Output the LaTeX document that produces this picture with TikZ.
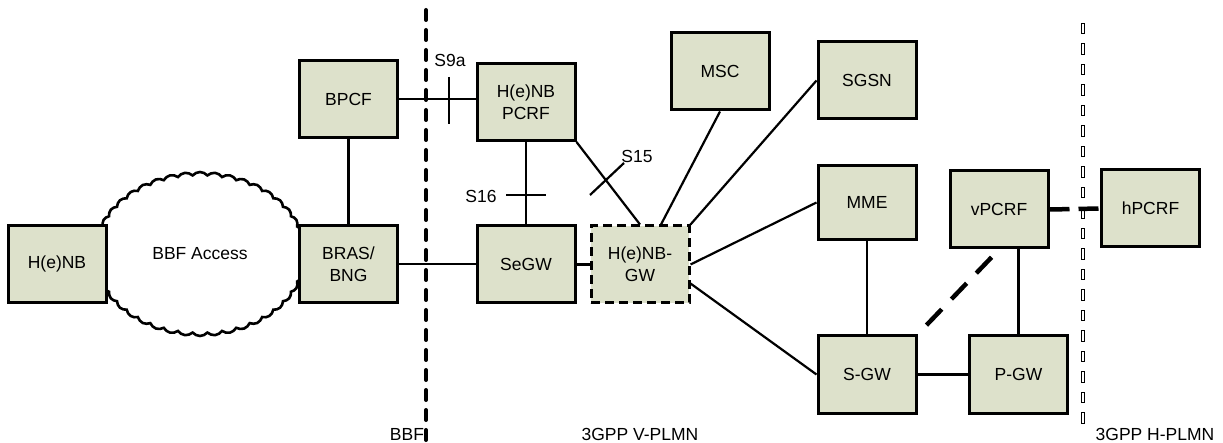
\documentclass[tikz,border=0pt]{standalone}
\usepackage{fontspec}
\setmainfont{Liberation Sans}
\usetikzlibrary{shapes.symbols}
\definecolor{boxfill}{RGB}{221,225,203}

\begin{document}
\begin{tikzpicture}[x=1pt,y=-1pt,
  font=\fontsize{17.5}{22}\selectfont,
  nf/.style={draw,line width=3pt,fill=boxfill,minimum width=98pt,minimum height=77pt,align=center,inner sep=2pt},
  ln/.style={line width=2.2pt},
  bigdash/.style={line width=4.5pt,dash pattern=on 22pt off 14pt}]
  \useasboundingbox (0,0) rectangle (1223,443);
  % access cloud (behind the boxes)
  \node[cloud,draw,line width=2.6pt,fill=white,cloud puffs=44,cloud puff arc=100,aspect=1.3,
        minimum width=212pt,minimum height=164pt,inner sep=0pt] (bbfcloud) at (200,254) {BBF Access};
  % domain borders
  \draw[line width=4pt,line cap=round,dash pattern=on 10pt off 10pt] (426,10) -- (426,443);
  \foreach \i in {0,...,19}
    \draw[line width=0.9pt] (1081.5,{23+20.5*\i}) rectangle +(3,10.5);
  % network elements
  \node[nf] (henb)  at (57,264)     {H(e)NB};
  \node[nf] (bras)  at (348.5,264)  {BRAS/\\BNG};
  \node[nf] (bpcf)  at (348.5,99)   {BPCF};
  \node[nf] (pcrf)  at (526,102)    {H(e)NB\\PCRF};
  \node[nf] (segw)  at (526,264.5)  {SeGW};
  \node[nf,dash pattern=on 9pt off 5pt] (hnbgw) at (640,264.5) {H(e)NB-\\GW};
  \node[nf] (msc)   at (720,71.5)   {MSC};
  \node[nf] (sgsn)  at (867,80.5)   {SGSN};
  \node[nf,minimum height=74pt] (mme) at (867,202.5) {MME};
  \node[nf] (sgw)   at (867,374.5)  {S-GW};
  \node[nf] (pgw)   at (1018.5,374.5) {P-GW};
  \node[nf] (vpcrf) at (999,209.5)  {vPCRF};
  \node[nf] (hpcrf) at (1150.5,208.5) {hPCRF};
  % links
  \draw[ln] (bpcf.south) -- (bras.north);
  \draw[ln] (bpcf.east) -- (bpcf.east -| pcrf.west);
  \draw[ln] (bras.east) -- (bras.east -| segw.west);
  \draw[ln] (pcrf.south) -- (segw.north);
  \draw[ln] (segw.east) -- (segw.east -| hnbgw.west);
  \draw[ln] (pcrf.south east) -- (hnbgw.north);
  \draw[ln] (msc.south) -- ([xshift=21pt]hnbgw.north);
  \draw[ln] (sgsn.west) -- (hnbgw.north east);
  \draw[ln] (mme.west) -- (hnbgw.east);
  \draw[ln] ([yshift=-19pt]hnbgw.east) -- (sgw.west);
  \draw[ln] (mme.south) -- (sgw.north);
  \draw[ln] (sgw.east) -- (sgw.east -| pgw.west);
  \draw[ln] (pgw.north) -- (pgw.north |- vpcrf.south);
  \draw[bigdash,shorten <=13pt] (sgw.north east) -- (vpcrf.south);
  \draw[line width=4.5pt,dash pattern=on 20pt off 9pt] (vpcrf.east) -- (hpcrf.west);
  % reference points
  \draw[ln] (449,77) -- (449,124);
  \node (s9a) at (450,60) {S9a};
  \draw[ln] (506,195) -- (546,195);
  \node (s16) at (481,196) {S16};
  \draw[ln] (590,195) -- (624,163);
  \node (s15) at (637,156) {S15};
  % domain labels
  \node (lbbf)  at (407,434)  {BBF};
  \node (lvpl)  at (640,434)  {3GPP V-PLMN};
  \node (lhpl)  at (1155,434) {3GPP H-PLMN};
\end{tikzpicture}
\end{document}
